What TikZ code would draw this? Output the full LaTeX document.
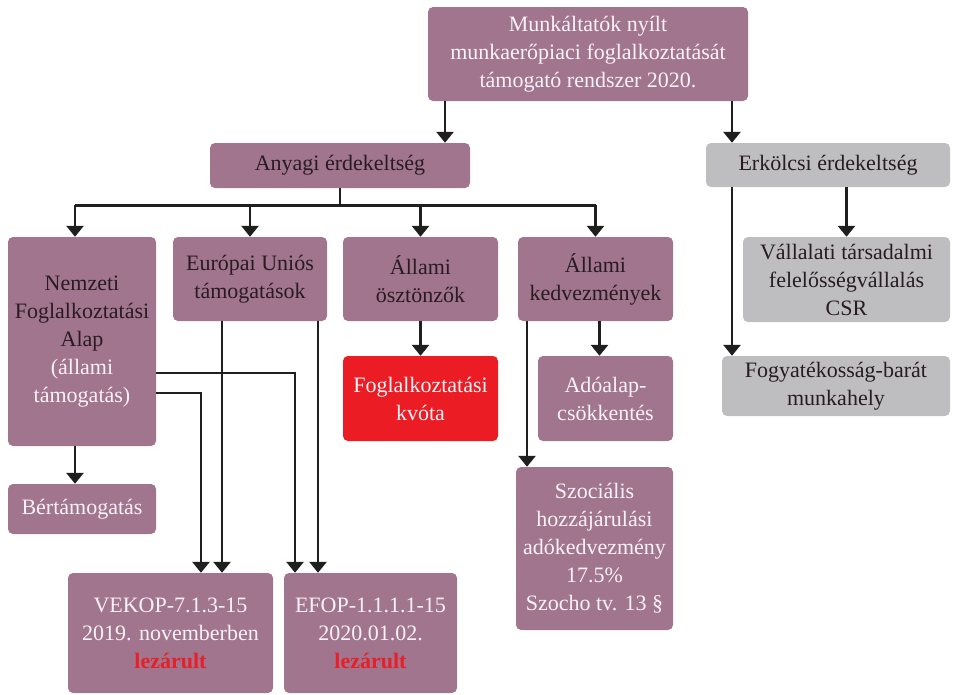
\documentclass[tikz,border=0pt]{standalone}
\usepackage{fontspec}
\setmainfont{Liberation Serif}
\usetikzlibrary{arrows.meta}
\definecolor{mauvebg}{RGB}{161,117,141}
\definecolor{greybg}{RGB}{190,190,192}
\definecolor{quotabg}{RGB}{236,28,36}
\definecolor{darktext}{RGB}{40,28,34}
\definecolor{lighttext}{RGB}{250,242,246}
\definecolor{closedred}{RGB}{232,30,40}

\begin{document}
\begin{tikzpicture}[
    x=1pt, y=-1pt,
    box/.style={
        rectangle,
        rounded corners=5pt,
        fill=mauvebg,
        text=darktext,
        align=center,
        inner sep=2pt,
        font=\fontsize{22}{28}\selectfont
    },
    lightbox/.style={box, text=lighttext},
    greybox/.style={box, fill=greybg},
    size/.style 2 args={minimum width=#1pt, minimum height=#2pt},
    link/.style={draw=black!88, line width=2.8pt},
    arrow/.style={link, -{Triangle[width=17pt,length=11pt]}}
]
\useasboundingbox (0,0) rectangle (961,694);

% Root
\node[lightbox, size={320}{94}] (root) at (588,54) {
    Munkáltatók nyílt\\
    munkaerőpiaci foglalkoztatását\\
    támogató rendszer 2020.
};

% Two main branches
\node[box, size={260}{45}] (anyagi) at (340,165.5) {Anyagi érdekeltség};
\node[greybox, size={244}{44}] (erkolcsi) at (828,165) {Erkölcsi érdekeltség};

% Material branch children
\node[box, size={148}{209}] (nfa) at (82,341.5) {
    Nemzeti\\
    Foglalkoztatási\\
    Alap\\
    \textcolor{lighttext}{(állami}\\
    \textcolor{lighttext}{támogatás)}
};
\node[box, size={154}{84}] (eu) at (250,279) {Európai Uniós\\támogatások};
\node[box, size={155}{84}] (osztonzo) at (420.5,279) {Állami\\ösztönzők};
\node[box, size={155}{84}] (kedvezmeny) at (595.5,279) {Állami\\kedvezmények};

% Moral branch children
\node[greybox, size={207}{85}] (csr) at (846.5,279.5) {
    Vállalati társadalmi\\
    felelősségvállalás\\
    CSR
};
\node[greybox, size={228}{60}] (fogyatekos) at (836,386) {
    Fogyatékosság-barát\\
    munkahely
};

% Third level
\node[lightbox, fill=quotabg, size={155}{85}] (kvota) at (420.5,398.5) {Foglalkoztatási\\kvóta};
\node[lightbox, size={135}{85}] (adoalap) at (605.5,398.5) {Adóalap-\\csökkentés};
\node[lightbox, size={148}{50}] (bertam) at (82,509) {Bértámogatás};
\node[lightbox, size={157}{163}] (szocho) at (594.5,548.5) {
    Szociális\\
    hozzájárulási\\
    adókedvezmény\\
    17.5\%\\
    Szocho tv. 13 §
};

% Programmes
\node[lightbox, size={205}{120}] (vekop) at (170.5,633) {
    VEKOP-7.1.3-15\\
    2019. novemberben\\
    \textcolor{closedred}{\textbf{lezárult}}
};
\node[lightbox, size={173}{120}] (efop) at (370.5,633) {
    EFOP-1.1.1.1-15\\
    2020.01.02.\\
    \textcolor{closedred}{\textbf{lezárult}}
};

% Root connectors
\draw[arrow] ([xshift=105pt]anyagi.north |- root.south) -- ([xshift=105pt]anyagi.north);
\draw[arrow] ([xshift=-96pt]erkolcsi.north |- root.south) -- ([xshift=-96pt]erkolcsi.north);

% Material branch
\draw[link] (anyagi.south) -- ++(0,17) coordinate (hub);
\draw[link] ([xshift=-7pt]nfa.north |- hub) -- (kedvezmeny.north |- hub);
\draw[arrow] ([xshift=-7pt]nfa.north |- hub) -- ([xshift=-7pt]nfa.north);
\foreach \n in {eu, osztonzo, kedvezmeny}
    \draw[arrow] (\n.north |- hub) -- (\n.north);

% Moral branch
\draw[arrow] (erkolcsi.south -| csr.north) -- (csr.north);
\draw[arrow] ([xshift=-96pt]erkolcsi.south) -- ([xshift=-96pt]erkolcsi.south |- fogyatekos.north);

% Funds to programmes
\draw[arrow] ([yshift=-31.5pt]nfa.east) -| ([xshift=-75.5pt]efop.north);
\draw[arrow] ([yshift=-51.5pt]nfa.east) -| ([xshift=30.5pt]vekop.north);
\draw[arrow] ([xshift=-28pt]eu.south) -- ([xshift=-28pt]eu.south |- vekop.north);
\draw[arrow] ([xshift=68pt]eu.south) -- ([xshift=68pt]eu.south |- efop.north);
\draw[arrow] ([xshift=-7pt]nfa.south) -- ([xshift=-7pt]bertam.north);

% Incentives and allowances
\draw[arrow] (osztonzo.south) -- (kvota.north);
\draw[arrow] ([xshift=-6pt]adoalap.north |- kedvezmeny.south) -- ([xshift=-6pt]adoalap.north);
\draw[arrow] ([xshift=-68.5pt]kedvezmeny.south) -- ([xshift=-68.5pt]kedvezmeny.south |- szocho.north);

\end{tikzpicture}
\end{document}
